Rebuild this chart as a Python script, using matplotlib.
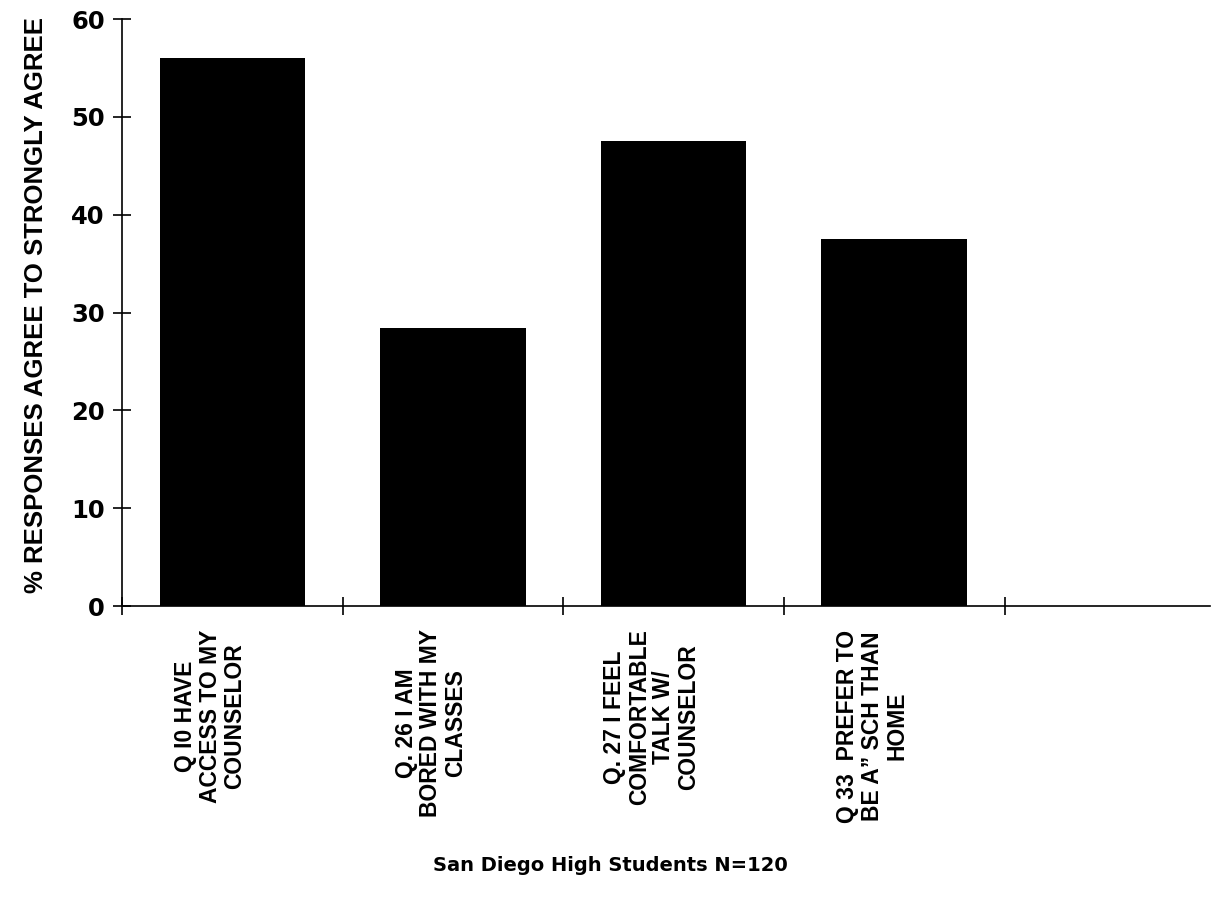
import numpy as np
import matplotlib
matplotlib.use("Agg")
import matplotlib.pyplot as plt

categories = [
    "Q I0 HAVE\nACCESS TO MY\nCOUNSELOR",
    "Q. 26 I AM\nBORED WITH MY\nCLASSES",
    "Q. 27 I FEEL\nCOMFORTABLE\nTALK W/\nCOUNSELOR",
    "Q 33  PREFER TO\nBE A\u201d SCH THAN\nHOME",
]
values = [56.0, 28.4, 47.5, 37.5]
y_ticks = [0, 10, 20, 30, 40, 50, 60]

narrow = ["Liberation Sans Narrow", "Liberation Sans", "DejaVu Sans"]
wide = ["DejaVu Sans"]

fig = plt.figure(figsize=(12.25, 8.97), dpi=100)
ax = fig.add_axes([0.0996, 0.3244, 0.888, 0.6544])

x = np.arange(len(categories))
ax.bar(x, values, width=0.66, color="black")

ax.set_ylim(0, 60)
ax.set_xlim(-0.5, 4.43)
ax.set_yticks(y_ticks)
ax.set_yticklabels([str(v) for v in y_ticks], fontsize=17.5, fontweight="bold",
                   family=wide)
ax.set_xticks(np.arange(-0.5, 4, 1.0))
ax.set_xticklabels([])
ax.tick_params(axis="both", direction="inout", length=13, width=1.2, pad=6)

for s in ["top", "right"]:
    ax.spines[s].set_visible(False)
for s in ["left", "bottom"]:
    ax.spines[s].set_linewidth(1.2)

for i, lab in enumerate(categories):
    ax.text(i - 0.1, -0.04, lab, transform=ax.get_xaxis_transform(),
            rotation=90, ha="center", va="top", multialignment="center",
            fontsize=16.5, fontweight="bold", family=narrow, linespacing=1.1)

fig.text(0.029, 0.66, "% RESPONSES AGREE TO STRONGLY AGREE", rotation=90,
         ha="center", va="center", fontsize=18.5, fontweight="bold", family=narrow)
fig.text(0.498, 0.035, "San Diego High Students N=120", ha="center", va="center",
         fontsize=14, fontweight="bold", family=wide)

fig.savefig("out.png", dpi=100)
